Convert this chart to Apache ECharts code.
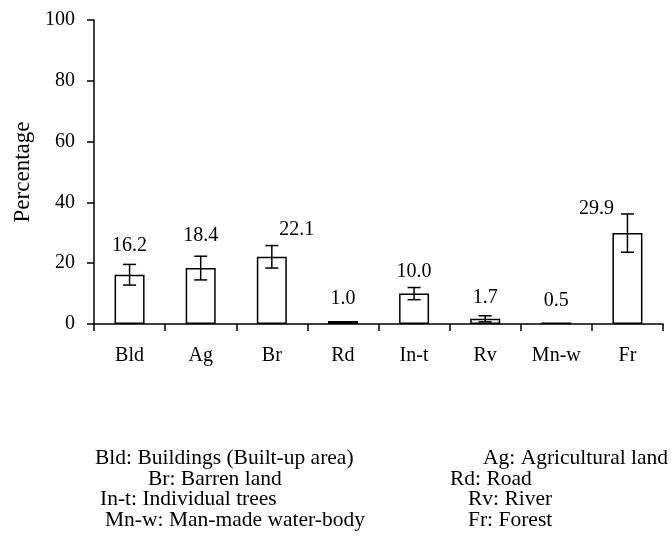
<!DOCTYPE html>
<html><head><meta charset="utf-8">
<script src="https://cdn.jsdelivr.net/npm/echarts@6/dist/echarts.min.js"></script>
<style>html,body{margin:0;padding:0;background:#fff}#c{width:671px;height:540px}</style>
</head><body><div id="c"></div>
<script>
const categories = ['Bld', 'Ag', 'Br', 'Rd', 'In-t', 'Rv', 'Mn-w', 'Fr'];
const percentages = [16.2, 18.4, 22.1, 1.0, 10.0, 1.7, 0.5, 29.9];
const errors = [3.4, 3.9, 3.7, 0, 2.0, 1.0, 0, 6.3];
const valueLabels = ['16.2', '18.4', '22.1', '1.0', '10.0', '1.7', '0.5', '29.9'];
const yTicks = [0, 20, 40, 60, 80, 100];
const notesLeft = ['Bld: Buildings (Built-up area)', 'Br: Barren land', 'In-t: Individual trees', 'Mn-w: Man-made water-body'];
const notesRight = ['Ag: Agricultural land', 'Rd: Road', 'Rv: River', 'Fr: Forest'];

// layout nudges for value labels (pixels), like manually placed labels in the source
const labelNudge = [[0,-9],[0,-10],[25,-6],[0,-12],[0,-6],[0,-8],[0,-12],[-31,5]];
const leftX = [95, 148, 100, 105];
const rightX = [483, 450, 468, 468];
const noteTop = [447, 468, 488.5, 509.5];

const FONT = '"Liberation Serif", "Times New Roman", serif';
const chart = echarts.init(document.getElementById('c'));

const graphics = [];
notesLeft.forEach((t, i) => graphics.push({type: 'text', left: leftX[i], top: noteTop[i],
  style: {text: t, font: '21.5px ' + FONT, fill: '#000'}}));
notesRight.forEach((t, i) => graphics.push({type: 'text', left: rightX[i], top: noteTop[i],
  style: {text: t, font: '21.5px ' + FONT, fill: '#000'}}));

chart.setOption({
  animation: false,
  backgroundColor: '#fff',
  grid: {left: 94, right: 8, top: 20, bottom: 216, containLabel: false},
  xAxis: {
    type: 'category', data: categories,
    axisLine: {lineStyle: {color: '#000', width: 1.5}},
    axisTick: {show: true, alignWithLabel: false, length: 7, lineStyle: {color: '#000', width: 1.5}},
    axisLabel: {color: '#000', fontFamily: FONT, fontSize: 20, margin: 22}
  },
  yAxis: {
    type: 'value', min: yTicks[0], max: yTicks[yTicks.length - 1], interval: 20,
    name: 'Percentage', nameLocation: 'middle', nameGap: 59,
    nameTextStyle: {color: '#000', fontFamily: FONT, fontSize: 23},
    axisLine: {show: true, lineStyle: {color: '#000', width: 1.5}},
    axisTick: {show: true, length: 7, lineStyle: {color: '#000', width: 1.5}},
    axisLabel: {color: '#000', fontFamily: FONT, fontSize: 20, margin: 19},
    splitLine: {show: false}
  },
  series: [
    {
      type: 'bar', data: percentages, barWidth: 30,
      itemStyle: {color: '#fff', borderColor: '#000', borderWidth: 1.5},
      z: 2
    },
    {
      type: 'custom',
      data: percentages.map((v, i) => [i, v, errors[i]]),
      renderItem: function (params, api) {
        const i = api.value(0), v = api.value(1), e = api.value(2);
        const top = api.coord([i, v + e]);
        const bot = api.coord([i, v - e]);
        const x = top[0];
        const hw = 6.5;
        const children = [];
        if (e > 0) {
          const st = {stroke: '#000', lineWidth: 1.5};
          children.push({type: 'line', shape: {x1: x, y1: top[1], x2: x, y2: bot[1]}, style: st});
          children.push({type: 'line', shape: {x1: x - hw, y1: top[1], x2: x + hw, y2: top[1]}, style: st});
          children.push({type: 'line', shape: {x1: x - hw, y1: bot[1], x2: x + hw, y2: bot[1]}, style: st});
        }
        const n = labelNudge[i];
        children.push({type: 'text', x: x + n[0], y: top[1] + n[1],
          style: {text: valueLabels[i], font: '20px ' + FONT, fill: '#000', align: 'center', verticalAlign: 'bottom'}});
        return {type: 'group', children: children};
      },
      z: 3
    }
  ],
  graphic: graphics
});
</script></body></html>
